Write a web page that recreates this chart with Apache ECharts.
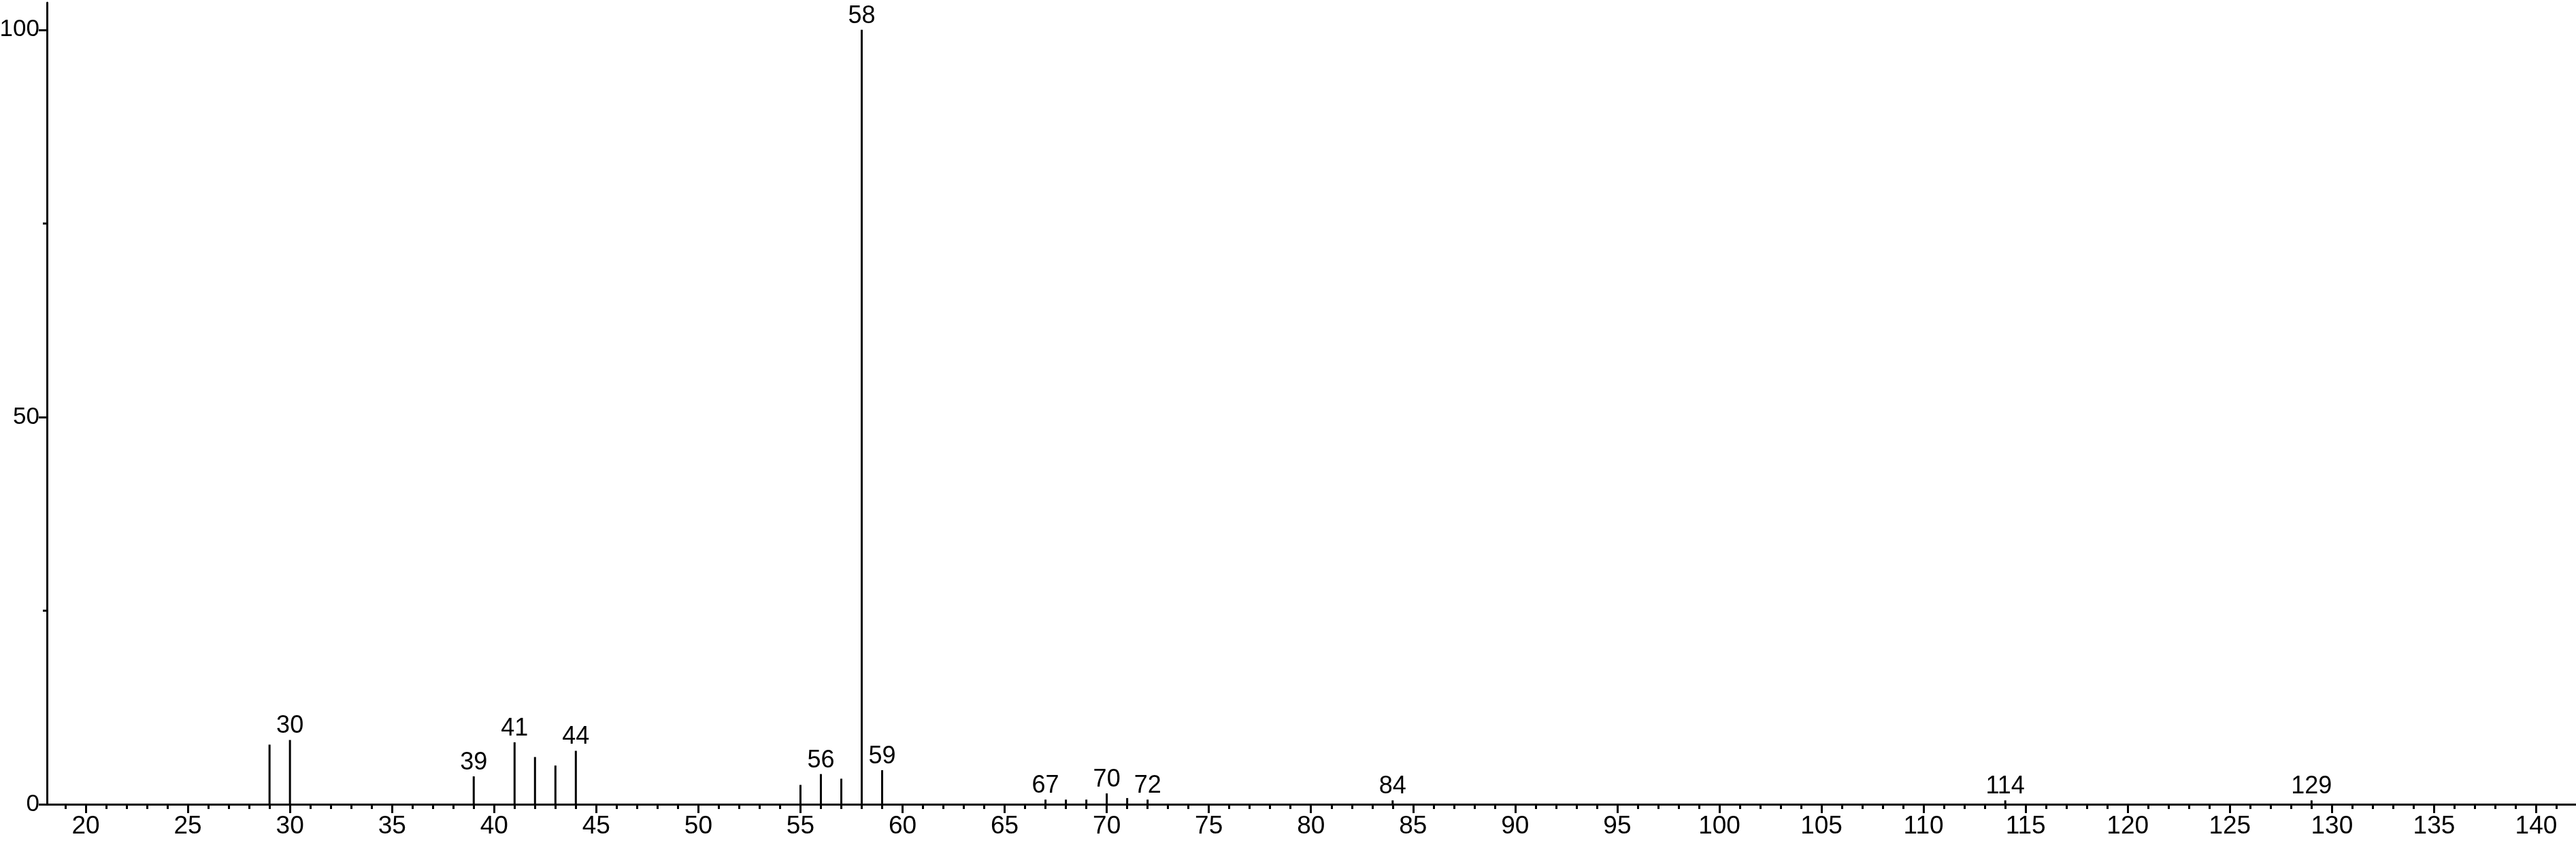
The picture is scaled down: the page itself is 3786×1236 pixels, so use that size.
<!DOCTYPE html>
<html>
<head>
<meta charset="utf-8">
<script src="https://cdn.jsdelivr.net/npm/echarts@6/dist/echarts.min.js"></script>
<style>
html,body{margin:0;padding:0;background:#ffffff;}
#chart{width:3786px;height:1236px;}
</style>
</head>
<body>
<div id="chart"></div>
<script>
// m/z positions of the peaks
const mz = [29, 30, 39, 41, 42, 43, 44, 55, 56, 57, 58, 59, 67, 68, 69, 70, 71, 72, 84, 114, 129];
// relative intensities (%)
const intensity = [7.7, 8.3, 3.6, 8.0, 6.1, 5.0, 6.9, 2.5, 3.9, 3.3, 100, 4.4, 0.6, 0.6, 0.6, 1.4, 0.8, 0.6, 0.5, 0.5, 0.5];
// peaks that carry a label
const labeledPeaks = [30, 39, 41, 44, 56, 58, 59, 67, 70, 72, 84, 114, 129];
// axis ticks
const xMajorTicks = [20, 25, 30, 35, 40, 45, 50, 55, 60, 65, 70, 75, 80, 85, 90, 95, 100, 105, 110, 115, 120, 125, 130, 135, 140];
const xMinorTicks = [];
for (let v = 19; v <= 141; v++) { if (v % 5 !== 0) xMinorTicks.push(v); }
const yMajorTicks = [0, 50, 100];
const yMinorTicks = [25, 75];

const FONT = '"Liberation Sans Narrow", "Arial Narrow", "Liberation Sans", Arial, sans-serif';
const XMIN = 18.1, XMAX = 141.95, YMAX = 103.5;

const chart = echarts.init(document.getElementById('chart'), null, {renderer: 'canvas'});
const data = mz.map((m, i) => ({
  value: [m, intensity[i]],
  label: { show: labeledPeaks.includes(m) }
}));

chart.setOption({
  backgroundColor: '#ffffff',
  animation: false,
  grid: { left: 69, right: 0, top: 4, bottom: 54, containLabel: false, outerBoundsMode: 'none' },
  xAxis: [
    {
      type: 'value', min: XMIN, max: XMAX, position: 'bottom',
      axisLine: { show: true, onZero: false, lineStyle: { color: '#000', width: 3 } },
      axisTick: { show: true, inside: false, length: 13, customValues: xMajorTicks, lineStyle: { color: '#000', width: 3 } },
      axisLabel: { show: true, customValues: xMajorTicks, margin: 14, color: '#000', fontSize: 37, fontFamily: FONT, hideOverlap: false },
      splitLine: { show: false }
    },
    {
      type: 'value', min: XMIN, max: XMAX, position: 'bottom',
      axisLine: { show: false },
      axisTick: { show: true, inside: false, length: 7, customValues: xMinorTicks, lineStyle: { color: '#000', width: 3 } },
      axisLabel: { show: false },
      splitLine: { show: false }
    }
  ],
  yAxis: [
    {
      type: 'value', min: 0, max: YMAX, position: 'left',
      axisLine: { show: true, onZero: false, lineStyle: { color: '#000', width: 3 } },
      axisTick: { show: true, inside: false, length: 12, customValues: yMajorTicks, lineStyle: { color: '#000', width: 3 } },
      axisLabel: { show: true, customValues: yMajorTicks, margin: 11, color: '#000', fontSize: 35, fontFamily: FONT },
      splitLine: { show: false }
    },
    {
      type: 'value', min: 0, max: YMAX, position: 'left',
      axisLine: { show: false },
      axisTick: { show: true, inside: false, length: 6, customValues: yMinorTicks, lineStyle: { color: '#000', width: 3 } },
      axisLabel: { show: false },
      splitLine: { show: false }
    }
  ],
  series: [{
    type: 'bar',
    xAxisIndex: 0, yAxisIndex: 0,
    barWidth: 3,
    itemStyle: { color: '#000' },
    label: {
      show: true, position: 'top', distance: 2,
      color: '#000', fontSize: 36, fontFamily: FONT,
      formatter: p => String(p.value[0])
    },
    data: data
  }]
});
</script>
</body>
</html>
